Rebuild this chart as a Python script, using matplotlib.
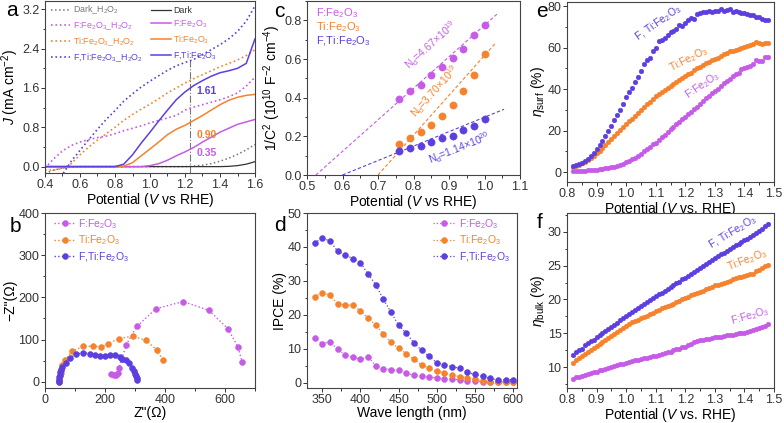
import numpy as np
import matplotlib
matplotlib.use("Agg")
import matplotlib.pyplot as plt
from matplotlib.ticker import MultipleLocator

plt.rcParams['font.family'] = ['Liberation Sans', 'DejaVu Sans']
plt.rcParams['mathtext.fontset'] = 'custom'
plt.rcParams['mathtext.rm'] = 'Liberation Sans'
plt.rcParams['mathtext.it'] = 'Liberation Sans:italic'
plt.rcParams['axes.linewidth'] = 0.8
plt.rcParams['axes.edgecolor'] = '#444444'

C_F = '#c55be6'
C_TI = '#f5822c'
C_FTI = '#5d3fe0'
C_DARK = '#333333'
C_GRAY = '#777777'

# ---- panel a: J-V curves
pot_a = [0.40, 0.45, 0.50, 0.55, 0.60, 0.65, 0.70, 0.75, 0.80, 0.85, 0.90, 0.95, 1.00,
         1.05, 1.10, 1.15, 1.20, 1.25, 1.30, 1.35, 1.40, 1.45, 1.50, 1.55, 1.60]
j_dark = [0, 0, 0, 0, 0, 0, 0, 0, 0, 0, 0, 0, 0,
          0, 0, 0, 0, 0, 0, 0, 0.0, 0.005, 0.02, 0.05, 0.10]
j_dark_h2o2 = [-0.14, -0.07, -0.03, -0.01, 0, 0, 0, 0, 0, 0, 0, 0, 0,
               0, 0, 0, 0.0, 0.01, 0.03, 0.06, 0.11, 0.17, 0.25, 0.34, 0.45]
j_f = [0, 0, 0, 0, 0, 0, 0, 0, 0, 0, 0, 0.0, 0.02,
       0.06, 0.13, 0.22, 0.30, 0.39, 0.50, 0.60, 0.70, 0.78, 0.86, 0.91, 0.96]
j_ti = [0, 0, 0, 0, 0, 0, 0, 0, 0, 0.01, 0.08, 0.22, 0.36,
        0.50, 0.65, 0.76, 0.84, 0.94, 1.04, 1.15, 1.26, 1.35, 1.41, 1.45, 1.47]
j_fti = [0, 0, 0, 0, 0, 0, 0, 0, 0, 0.05, 0.24, 0.48, 0.70,
         0.93, 1.15, 1.36, 1.52, 1.65, 1.75, 1.84, 1.91, 1.95, 2.00, 2.10, 2.60]
j_f_h2o2 = [-0.03, 0.16, 0.32, 0.43, 0.50, 0.55, 0.59, 0.62, 0.67, 0.73, 0.78, 0.83, 0.89,
            0.94, 0.99, 1.04, 1.15, 1.21, 1.26, 1.31, 1.36, 1.42, 1.50, 1.64, 1.82]
j_ti_h2o2 = [-0.07, -0.07, -0.04, 0.06, 0.24, 0.40, 0.54, 0.67, 0.80, 0.94, 1.06, 1.17, 1.27,
             1.38, 1.50, 1.60, 1.70, 1.79, 1.87, 1.95, 2.03, 2.10, 2.17, 2.26, 2.38]
j_fti_h2o2 = [-0.75, -0.46, -0.16, 0.11, 0.33, 0.55, 0.76, 0.96, 1.14, 1.33, 1.48, 1.62, 1.74,
              1.85, 1.96, 2.05, 2.12, 2.18, 2.28, 2.38, 2.48, 2.60, 2.75, 2.96, 3.27]
j_at_123 = ['1.61', '0.90', '0.35']

# ---- panel b: Nyquist
zr_f = [221, 230, 238, 243, 247, 256, 271, 306, 370, 460, 547, 609, 643, 657]
zi_f = [19, 16, 16, 21, 33, 54, 88, 131, 173, 190, 169, 126, 83, 47]
zr_ti = [47, 48, 49, 52, 54, 58, 67, 90, 127, 160, 187, 211, 245, 292, 336, 372, 393]
zi_ti = [0, 5, 13, 21, 29, 39, 51, 72, 84, 84, 83, 90, 102, 108, 98, 76, 52]
zr_fti = [47, 47, 48, 49, 50, 53, 58, 70, 84, 104, 127, 149, 166, 183, 199, 215, 233,
          251, 258, 269, 280, 289, 295, 299, 303, 305, 306]
zi_fti = [0, 3, 10, 16, 22, 28, 35, 45, 57, 65, 69, 66, 63, 61, 62, 63, 63,
          59, 54, 52, 44, 33, 25, 19, 13, 8, 3]

# ---- panel c: Mott-Schottky
pot_c = [0.76, 0.79, 0.82, 0.85, 0.88, 0.91, 0.94, 0.97, 1.00]
ms_f = [0.391, 0.433, 0.463, 0.516, 0.558, 0.605, 0.653, 0.722, 0.777]
ms_ti = [0.162, 0.191, 0.221, 0.261, 0.307, 0.362, 0.437, 0.516, 0.627]
ms_fti = [0.125, 0.138, 0.151, 0.172, 0.190, 0.203, 0.231, 0.256, 0.288]
fit_f = ([0.525, 1.04], [0.0, 0.84])
fit_ti = ([0.70, 1.03], [0.0, 0.68])
fit_fti = ([0.60, 1.055], [0.0, 0.34])

# ---- panel d: IPCE
wl = [340, 350, 360, 370, 380, 390, 400, 410, 420, 430, 440, 450, 460, 470,
      480, 490, 500, 510, 520, 530, 540, 550, 560, 570, 580, 590, 600]
ipce_f = [13.3, 11.5, 12.1, 9.9, 8.3, 7.6, 6.9, 7.7, 5.0, 4.2, 3.9, 3.7, 2.9, 2.2,
          1.9, 1.7, 1.4, 1.2, 1.1, 0.9, 0.7, 0.5, 0.4, 0.4, 0.3, 0.3, 0.3]
ipce_ti = [25.3, 26.6, 25.8, 23.2, 22.9, 22.9, 21.2, 19.1, 17.0, 14.4, 11.9, 10.2, 8.6, 7.0,
           5.3, 4.3, 3.4, 2.9, 2.4, 1.8, 1.5, 1.1, 0.7, 0.4, 0.3, 0.2, 0.2]
ipce_fti = [41.2, 42.6, 41.8, 38.8, 37.7, 36.6, 35.4, 32.0, 28.9, 24.6, 20.8, 17.0, 14.6, 11.8,
            9.6, 7.8, 5.9, 5.4, 4.8, 4.3, 3.1, 2.5, 1.9, 1.3, 0.9, 0.9, 0.9]

# ---- panels e, f: separation efficiencies
pot_ef = [0.82, 0.83, 0.84, 0.85, 0.86, 0.87, 0.88, 0.89, 0.90, 0.91, 0.92, 0.93, 0.94, 0.95,
          0.96, 0.97, 0.98, 0.99, 1.00, 1.01, 1.02, 1.03, 1.04, 1.05, 1.06, 1.07, 1.08, 1.09,
          1.10, 1.11, 1.12, 1.13, 1.14, 1.15, 1.16, 1.17, 1.18, 1.19, 1.20, 1.21, 1.22, 1.23,
          1.24, 1.25, 1.26, 1.27, 1.28, 1.29, 1.30, 1.31, 1.32, 1.33, 1.34, 1.35, 1.36, 1.37,
          1.38, 1.39, 1.40, 1.41, 1.42, 1.43, 1.44, 1.45, 1.46, 1.47, 1.48]
surf_f = [0.3, 0.4, 0.5, 0.6, 0.7, 0.8, 0.9, 1.0, 1.2, 1.4, 1.6, 1.8, 2.0, 2.3,
          2.6, 3.0, 3.5, 4.0, 4.7, 5.4, 6.2, 7.0, 7.9, 8.9, 10.0, 11.0, 12.2, 13.3,
          14.2, 15.5, 16.8, 18.0, 19.3, 20.6, 21.8, 23.0, 24.2, 25.4, 26.5, 27.8, 29.0, 30.3,
          31.5, 33.0, 34.3, 35.5, 36.8, 38.0, 39.0, 40.2, 41.5, 42.8, 44.0, 45.0, 46.3, 47.5,
          48.0, 49.5, 50.0, 50.5, 51.3, 52.0, 53.8, 53.5, 53.6, 55.5, 55.6]
surf_ti = [2.5, 3.0, 3.5, 4.2, 5.0, 5.8, 6.7, 7.8, 9.0, 10.3, 11.7, 13.0, 14.5, 16.0,
           17.5, 18.8, 20.2, 21.5, 23.0, 24.5, 25.8, 27.2, 28.6, 30.0, 31.5, 32.8, 34.0, 35.3,
           36.5, 37.7, 38.8, 39.8, 40.6, 41.5, 42.3, 43.3, 44.5, 45.5, 46.5, 47.3, 48.0, 49.0,
           50.0, 50.8, 51.5, 52.5, 53.2, 53.8, 54.5, 55.0, 56.2, 57.0, 57.3, 58.5, 58.2, 59.0,
           59.5, 60.0, 60.5, 61.0, 61.5, 61.8, 62.5, 62.0, 61.8, 62.3, 62.2]
surf_fti = [3.0, 3.5, 4.0, 4.6, 5.3, 6.3, 7.5, 9.2, 11.0, 13.0, 15.0, 17.5, 19.8, 22.3,
            25.0, 27.5, 30.0, 32.8, 36.0, 38.5, 40.7, 43.5, 45.6, 48.5, 52.0, 54.0, 55.0, 58.5,
            60.0, 63.0, 63.5, 64.5, 66.0, 67.5, 68.0, 69.0, 71.0, 70.5, 72.0, 73.5, 74.5, 74.0,
            76.0, 76.5, 77.0, 77.0, 77.5, 77.0, 77.5, 77.5, 78.5, 77.5, 78.0, 78.5, 77.0, 77.5,
            77.0, 76.5, 76.5, 76.0, 75.5, 75.5, 75.0, 75.0, 74.0, 73.5, 73.5]
bulk_f = [8.3, 8.5, 8.6, 8.7, 8.8, 8.9, 9.1, 9.2, 9.3, 9.5, 9.6, 9.7, 9.9, 10.0,
          10.2, 10.3, 10.4, 10.5, 10.6, 10.8, 10.9, 11.0, 11.1, 11.2, 11.3, 11.4, 11.5, 11.6,
          11.7, 11.8, 12.0, 12.1, 12.2, 12.3, 12.5, 12.6, 12.7, 12.9, 13.0, 13.2, 13.4, 13.7,
          13.9, 14.0, 14.0, 14.1, 14.2, 14.3, 14.4, 14.5, 14.5, 14.6, 14.7, 14.8, 14.8, 14.9,
          15.0, 15.1, 15.1, 15.2, 15.4, 15.5, 15.6, 15.8, 15.9, 16.1, 16.3]
bulk_ti = [10.6, 11.0, 11.3, 11.6, 11.9, 12.2, 12.5, 12.8, 13.1, 13.4, 13.7, 14.0, 14.3, 14.6,
           14.9, 15.2, 15.5, 15.8, 16.1, 16.4, 16.6, 16.8, 17.0, 17.2, 17.4, 17.6, 17.8, 18.0,
           18.3, 18.5, 18.7, 18.9, 19.0, 19.2, 19.4, 19.6, 19.8, 20.0, 20.2, 20.4, 20.6, 20.8,
           20.9, 21.1, 21.3, 21.5, 21.7, 21.9, 22.1, 22.2, 22.3, 22.5, 22.6, 22.8, 23.0, 23.2,
           23.3, 23.3, 23.5, 23.6, 23.7, 23.8, 24.2, 24.4, 24.6, 25.0, 25.1]
bulk_fti = [11.8, 12.2, 12.5, 12.7, 13.2, 13.5, 13.8, 14.0, 14.4, 14.7, 15.0, 15.3, 15.6, 15.9,
            16.2, 16.5, 16.9, 17.2, 17.6, 17.9, 18.2, 18.5, 18.8, 19.1, 19.4, 19.6, 19.9, 20.2,
            20.5, 20.8, 21.0, 21.3, 21.6, 21.9, 22.1, 22.4, 22.6, 23.0, 23.2, 23.5, 23.8, 24.1,
            24.3, 24.6, 24.9, 25.2, 25.5, 25.8, 26.2, 26.5, 26.7, 26.9, 27.2, 27.5, 27.8, 28.0,
            28.2, 28.5, 28.8, 29.0, 29.3, 29.6, 29.8, 30.2, 30.5, 30.9, 31.2]

W, H = 784, 423


def box(left, top, right, bottom):
    return [left / W, 1 - bottom / H, (right - left) / W, (bottom - top) / H]


def style(ax, xmaj, xmin, ymaj, ymin):
    ax.xaxis.set_major_locator(MultipleLocator(xmaj))
    ax.xaxis.set_minor_locator(MultipleLocator(xmin))
    ax.yaxis.set_major_locator(MultipleLocator(ymaj))
    ax.yaxis.set_minor_locator(MultipleLocator(ymin))
    ax.tick_params(which='both', direction='out', labelsize=9, colors='#333333', width=0.7, pad=1)
    ax.tick_params(which='major', length=3)
    ax.tick_params(which='minor', length=1.8)


fig = plt.figure(figsize=(W / 100, H / 100), dpi=100)
lab_fs = 10
leg_kw = dict(frameon=False, labelcolor='linecolor', handletextpad=0.3)

# a
ax = fig.add_axes(box(45, 1, 255, 173))
ax.axvline(1.23, ymax=0.66, color=C_GRAY, ls='-.', lw=0.8)
h_dh, = ax.plot(pot_a, j_dark_h2o2, ':', color=C_GRAY, lw=1.1, label='Dark_H$_2$O$_2$')
h_fh, = ax.plot(pot_a, j_f_h2o2, ':', color=C_F, lw=1.2, label='F:Fe$_2$O$_3$_H$_2$O$_2$')
h_th, = ax.plot(pot_a, j_ti_h2o2, ':', color=C_TI, lw=1.2, label='Ti:Fe$_2$O$_3$_H$_2$O$_2$')
h_ftih, = ax.plot(pot_a, j_fti_h2o2, ':', color=C_FTI, lw=1.2, label='F,Ti:Fe$_2$O$_3$_H$_2$O$_2$')
h_d, = ax.plot(pot_a, j_dark, '-', color=C_DARK, lw=0.9, label='Dark')
h_f, = ax.plot(pot_a, j_f, '-', color=C_F, lw=1.1, label='F:Fe$_2$O$_3$')
h_t, = ax.plot(pot_a, j_ti, '-', color=C_TI, lw=1.1, label='Ti:Fe$_2$O$_3$')
h_fti, = ax.plot(pot_a, j_fti, '-', color=C_FTI, lw=1.1, label='F,Ti:Fe$_2$O$_3$')
ax.text(1.265, 1.47, j_at_123[0], color=C_FTI, fontsize=7.5, fontweight='bold')
ax.text(1.265, 0.58, j_at_123[1], color=C_TI, fontsize=7.5, fontweight='bold')
ax.text(1.265, 0.22, j_at_123[2], color=C_F, fontsize=7.5, fontweight='bold')
ax.legend(handles=[h_dh, h_fh, h_th, h_ftih, h_d, h_f, h_t, h_fti], ncol=2, loc='upper left',
          bbox_to_anchor=(-0.01, 1.03), fontsize=6.4, handlelength=2.2, columnspacing=0.9,
          labelspacing=0.4, **leg_kw)
ax.set_xlim(0.4, 1.6)
ax.set_ylim(-0.13, 3.37)
style(ax, 0.2, 0.1, 0.8, 0.4)
ax.set_xlabel('Potential ($V$ vs RHE)', fontsize=lab_fs, labelpad=0.5)
ax.set_ylabel('$J$ (mA cm$^{-2}$)', fontsize=lab_fs, labelpad=0.5)

# b
ax = fig.add_axes(box(45, 213, 255, 388))
for zr, zi, c, lbl in [(zr_f, zi_f, C_F, 'F:Fe$_2$O$_3$'), (zr_ti, zi_ti, C_TI, 'Ti:Fe$_2$O$_3$'),
                       (zr_fti, zi_fti, C_FTI, 'F,Ti:Fe$_2$O$_3$')]:
    ax.plot(zr, zi, ':', color=c, lw=1.0, marker='o', ms=4.2, mfc=c, mec=c, mew=0.4, label=lbl)
ax.legend(loc='upper left', bbox_to_anchor=(0.0, 1.03), fontsize=7.5, handlelength=2.0,
          labelspacing=0.25, **leg_kw)
ax.set_xlim(0, 700)
ax.set_ylim(-15, 400)
style(ax, 200, 100, 100, 50)
ax.set_xlabel('Z"(Ω)', fontsize=lab_fs, labelpad=0.5)
ax.set_ylabel('−Z"(Ω)', fontsize=lab_fs, labelpad=0.5)

# c
ax = fig.add_axes(box(307, 1, 520, 175))
for fit, c in [(fit_f, C_F), (fit_ti, C_TI), (fit_fti, C_FTI)]:
    ax.plot(fit[0], fit[1], '--', color=c, lw=0.8, dashes=(3, 2))
for ys, c in [(ms_f, C_F), (ms_ti, C_TI), (ms_fti, C_FTI)]:
    ax.plot(pot_c, ys, 'o', color=c, ms=5.2, mec=c, mew=0.4)
ax.text(0.85, 0.67, 'N$_\\mathrm{d}$=4.67×10$^{19}$', color=C_F, fontsize=7.5, rotation=42,
        ha='center', va='center')
ax.text(0.86, 0.435, 'N$_\\mathrm{d}$=3.70×10$^{19}$', color=C_TI, fontsize=7.5, rotation=48,
        ha='center', va='center')
ax.text(0.93, 0.137, 'N$_\\mathrm{d}$=1.14×10$^{20}$', color=C_FTI, fontsize=7.5, rotation=22,
        ha='center', va='center')
for i, (lbl, c) in enumerate([('F:Fe$_2$O$_3$', C_F), ('Ti:Fe$_2$O$_3$', C_TI),
                              ('F,Ti:Fe$_2$O$_3$', C_FTI)]):
    ax.text(0.04, 0.93 - i * 0.08, lbl, color=c, fontsize=8, transform=ax.transAxes, va='center')
ax.set_xlim(0.5, 1.1)
ax.set_ylim(0, 0.9)
style(ax, 0.1, 0.05, 0.2, 0.1)
ax.set_xlabel('Potential ($V$ vs RHE)', fontsize=lab_fs, labelpad=0.5)
ax.set_ylabel('1/C$^2$ (10$^{10}$ F$^{-2}$ cm$^{-4}$)', fontsize=lab_fs, labelpad=0.5)

# d
ax = fig.add_axes(box(307, 213, 517, 388))
for ys, c, lbl in [(ipce_f, C_F, 'F:Fe$_2$O$_3$'), (ipce_ti, C_TI, 'Ti:Fe$_2$O$_3$'),
                   (ipce_fti, C_FTI, 'F,Ti:Fe$_2$O$_3$')]:
    ax.plot(wl, ys, ':', color=c, lw=0.9, marker='o', ms=4.2, mfc=c, mec=c, mew=0.4, label=lbl)
ax.legend(loc='upper right', bbox_to_anchor=(1.01, 1.03), fontsize=7.5, handlelength=2.2,
          labelspacing=0.25, **leg_kw)
ax.set_xlim(330, 605)
ax.set_ylim(-1.5, 50)
style(ax, 50, 25, 10, 5)
ax.set_xlabel('Wave length (nm)', fontsize=lab_fs, labelpad=0.5)
ax.set_ylabel('IPCE (%)', fontsize=lab_fs, labelpad=0.5)

# e
ax = fig.add_axes(box(567, 2, 774, 182))
for ys, c in [(surf_f, C_F), (surf_ti, C_TI), (surf_fti, C_FTI)]:
    ax.plot(pot_ef, ys, 'o', color=c, ms=3.4, mec=c, mew=0.3)
ax.text(1.11, 72, 'F, Ti:Fe$_2$O$_3$', color=C_FTI, fontsize=7.5, rotation=35, ha='center', va='center')
ax.text(1.21, 54.5, 'Ti:Fe$_2$O$_3$', color=C_TI, fontsize=7.5, rotation=27, ha='center', va='center')
ax.text(1.26, 42, 'F:Fe$_2$O$_3$', color=C_F, fontsize=7.5, rotation=34, ha='center', va='center')
ax.set_xlim(0.8, 1.5)
ax.set_ylim(-4.8, 82)
style(ax, 0.1, 0.05, 20, 10)
ax.set_xlabel('Potential ($V$ vs. RHE)', fontsize=lab_fs, labelpad=0.5)
ax.set_ylabel('$\\eta_{\\mathrm{surf}}$ (%)', fontsize=lab_fs, labelpad=0.5)

# f
ax = fig.add_axes(box(567, 213, 774, 388))
for ys, c in [(bulk_f, C_F), (bulk_ti, C_TI), (bulk_fti, C_FTI)]:
    ax.plot(pot_ef, ys, 'o', color=c, ms=3.4, mec=c, mew=0.3)
ax.text(1.36, 29.9, 'F, Ti:Fe$_2$O$_3$', color=C_FTI, fontsize=7.5, rotation=31, ha='center', va='center')
ax.text(1.41, 25.8, 'Ti:Fe$_2$O$_3$', color=C_TI, fontsize=7.5, rotation=21, ha='center', va='center')
ax.text(1.42, 17.6, 'F:Fe$_2$O$_3$', color=C_F, fontsize=7.5, rotation=16, ha='center', va='center')
ax.set_xlim(0.8, 1.5)
ax.set_ylim(6.9, 32.8)
style(ax, 0.1, 0.05, 5, 2.5)
ax.set_xlabel('Potential ($V$ vs. RHE)', fontsize=lab_fs, labelpad=0.5)
ax.set_ylabel('$\\eta_{\\mathrm{bulk}}$ (%)', fontsize=lab_fs, labelpad=0.5)

# panel letters
for letter, px, py in [('a', 6, 16), ('b', 10, 232), ('c', 274, 17),
                       ('d', 274, 231), ('e', 536, 17), ('f', 537, 228)]:
    fig.text(px / W, 1 - py / H, letter, fontsize=15, va='baseline', ha='left')

fig.savefig('out.png', dpi=100)
